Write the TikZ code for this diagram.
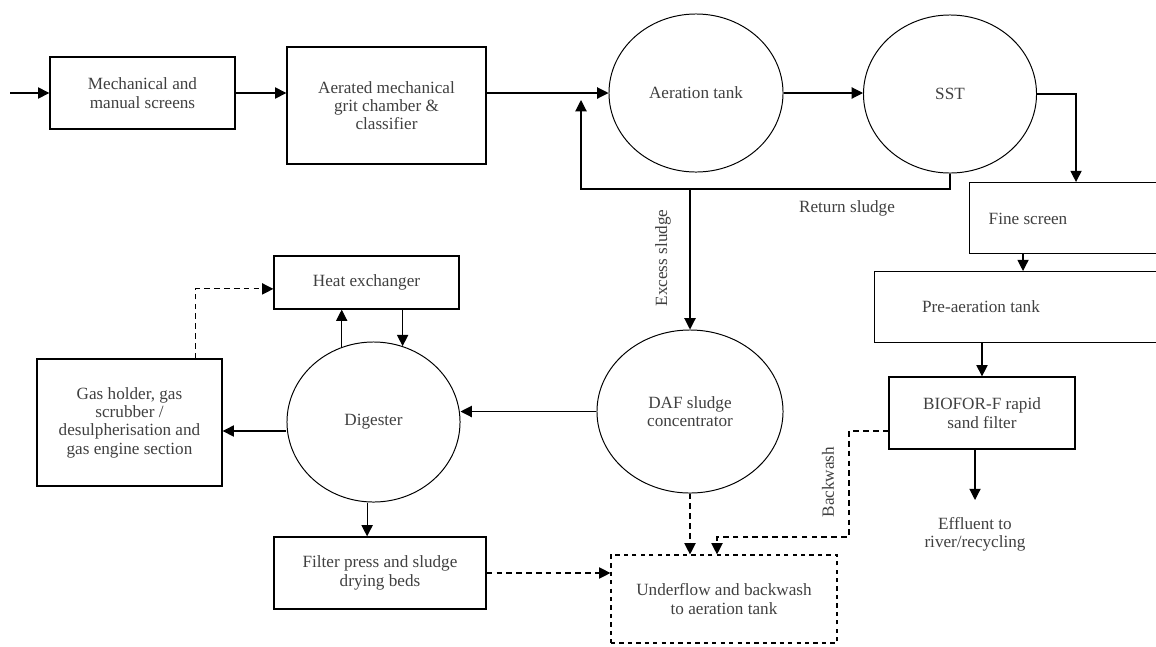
\documentclass[tikz,border=0pt]{standalone}
\usepackage{fontspec}
\setmainfont{Liberation Serif}
\usetikzlibrary{arrows.meta,shapes.geometric}
\tikzset{
    box/.style={draw, line width=0.9pt, align=center, text=black!75, inner sep=2pt},
    tank/.style={draw, ellipse, line width=0.7pt, align=center, text=black!75, inner sep=0pt},
    txt/.style={align=center, text=black!75},
    flow/.style={line width=0.8pt, -{Triangle[width=8pt,length=8pt]}},
    dflow/.style={flow, dash pattern=on 4pt off 3pt},
}
\begin{document}
\begin{tikzpicture}[x=0.025cm, y=-0.025cm, font=\fontsize{12.2}{13}\selectfont]
        \useasboundingbox (0,0) rectangle (1156,646);
        \clip (0,0) rectangle (1156,646);
        % top line
        \coordinate (in) at (10,93);
        \node[box, minimum width=4.625cm, minimum height=1.8cm] (mech) at (142.5,93) {Mechanical and\\manual screens};
        \node[box, minimum width=4.975cm, minimum height=2.925cm] (grit) at (386.5,105.5) {Aerated mechanical\\grit chamber \&\\classifier};
        \node[tank, minimum width=4.35cm, minimum height=3.95cm] (aer) at (696,93) {Aeration tank};
        \node[tank, minimum width=4.325cm, minimum height=3.95cm] (sst) at (950,94) {SST};
        % right column, cut by the page edge
        \node[box, anchor=north west, minimum width=5.3cm, minimum height=1.775cm] (fine) at (969,182) {};
        \node[txt] (finetxt) at (1028,219) {Fine screen};
        \node[box, anchor=north west, minimum width=7.2cm, minimum height=1.775cm] (pre) at (874,271) {};
        \node[txt] (pretxt) at (981,307) {Pre-aeration tank};
        \node[box, minimum width=4.65cm, minimum height=1.8cm] (bio) at (982,413) {BIOFOR-F rapid\\sand filter};
        \node[txt] (eff) at (975,534) {Effluent to\\river/recycling};
        % sludge line
        \node[box, minimum width=4.625cm, minimum height=1.325cm] (he) at (366.5,282.5) {Heat exchanger};
        \node[tank, minimum width=4.325cm, minimum height=4cm] (dig) at (373.5,422) {Digester};
        \node[box, minimum width=4.625cm, minimum height=3.175cm] (gas) at (129.5,422.5) {Gas holder, gas\\scrubber /\\desulpherisation and\\gas engine section};
        \node[tank, minimum width=4.65cm, minimum height=4.075cm] (daf) at (690,411.5) {DAF sludge\\concentrator};
        \node[box, minimum width=5.3cm, minimum height=1.8cm] (filt) at (380,573) {Filter press and sludge\\drying beds};
        \node[box, dash pattern=on 3pt off 3pt, line width=0.8pt, minimum width=5.65cm, minimum height=2.2cm] (under) at (724,599) {Underflow and backwash\\to aeration tank};
        \coordinate (ret) at (581,189);
        \coordinate (retin) at (581,100);
        \coordinate (bw) at (849,537);
        % connectors
        \draw[flow] (in) -- (mech.west);
        \draw[flow] (mech.east) -- (mech.east -| grit.west);
        \draw[flow] (grit.east |- aer.west) -- (aer.west);
        \draw[flow] (aer.east) -- (aer.east -| sst.west);
        \draw[flow] (sst.east) -| ([xshift=2.675cm]fine.north west);
        \draw[flow] (sst.south) -- (sst.south |- ret) -- (ret) -- (retin);
        \draw[flow] (daf.north |- ret) -- (daf.north);
        \draw[flow] ([xshift=1.35cm]fine.south west) -- ([xshift=1.35cm]fine.south west |- pre.north);
        \draw[flow] (pre.south -| bio.north) -- (bio.north);
        \draw[flow] (bio.south -| eff.north) -- ([yshift=0.3cm]eff.north);
        \draw[flow] (daf.west) -- (daf.west -| dig.east);
        \draw[flow] ([yshift=-0.225cm]dig.west) -- ([yshift=-0.225cm]dig.west -| gas.east);
        \draw[flow] (dig.113) -- (dig.113 |- he.south);
        \draw[flow] (he.south -| dig.69) -- (dig.69);
        \draw[dflow] ([xshift=1.64cm]gas.north) |- ([yshift=-0.16cm]he.west);
        \draw[flow] ([xshift=-0.16cm]dig.south) -- ([xshift=-0.16cm]dig.south |- filt.north);
        \draw[dflow] (filt.east) -- (filt.east -| under.west);
        \draw[dflow] (daf.south) -- (daf.south |- under.north);
        \draw[dflow] ([yshift=-0.45cm]bio.west) -| (bw) -| ([xshift=-0.175cm]under.north);
        % labels
        \node[txt] (retlbl) at (847,208) {Return sludge};
        \node[txt, rotate=90] (exlbl) at (663,258) {Excess sludge};
        \node[txt, rotate=90] (bwlbl) at (828,482) {Backwash};
\end{tikzpicture}
\end{document}
